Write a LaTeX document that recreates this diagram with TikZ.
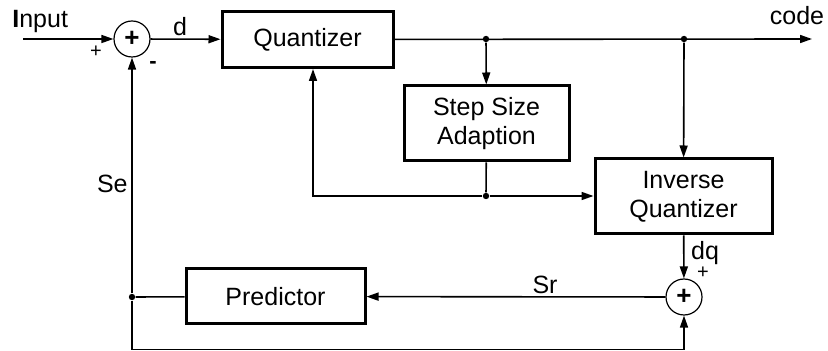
\documentclass[tikz,border=0pt]{standalone}
\usepackage{fontspec}
\setmainfont{Liberation Sans}
\usetikzlibrary{arrows.meta, positioning, calc}

\begin{document}
\begin{tikzpicture}[
    x=0.5pt, y=-0.5pt,
    font=\fontsize{12.5}{14.5}\selectfont,
    block/.style={draw, line width=1.5pt, inner sep=0pt, align=center},
    adder/.style={draw, circle, line width=0.6pt, minimum size=18pt, inner sep=0pt, font=\fontsize{13}{13}\selectfont\bfseries},
    dot/.style={circle, fill, inner sep=0pt, minimum size=3.2pt},
    sig/.style={line width=0.8pt},
    arr/.style={sig, -{Triangle[length=6pt, width=4pt]}},
    lbl/.style={inner sep=0pt},
    sgn/.style={inner sep=0pt, font=\fontsize{10}{10}\selectfont},
]
    \useasboundingbox (0,0) rectangle (828,351);

    % blocks
    \node[block, minimum width=85.5pt, minimum height=28pt] (quant) at (307.5,39.5) {Quantizer};
    \node[block, minimum width=82.5pt, minimum height=37.5pt] (step) at (486.5,123.5) {Step Size\\Adaption};
    \node[block, minimum width=88.5pt, minimum height=37.5pt] (invq) at (683.5,196.5) {Inverse\\Quantizer};
    \node[block, minimum width=89.5pt, minimum height=27.5pt] (pred) at (275.5,296.5) {Predictor};

    % adders
    \node[adder] (sum1) at (132,39) {+};
    \node[adder] (sum2) at (684,297) {+};

    % branch points
    \node[dot] (d1) at (486,39) {};
    \node[dot] (d2) at (684,39) {};
    \node[dot] (d3) at (486,196) {};
    \node[dot] (d4) at (132,297) {};
    \coordinate (in) at (23,39);
    \coordinate (out) at (812,39);
    \coordinate (c1) at (313,196);
    \coordinate (b1) at (684,349.5);

    % forward path
    \draw[arr] (in) -- (sum1);
    \draw[arr] (sum1) -- (quant);
    \draw[arr] (quant) -- (out);
    \draw[arr] (d1) -- (step);
    \draw[sig] (step) -- (d3);
    \draw[arr] (d2) -- (invq);
    \draw[arr] (d3) -- (invq.west |- d3);
    \draw[arr] (d3) -- (c1) -- (c1 |- quant.south);

    % feedback path
    \draw[arr] (invq) -- (sum2);
    \draw[arr] (sum2) -- (pred);
    \draw[sig] (pred) -- (d4);
    \draw[arr] (d4) -- (sum1);
    \draw[arr] (d4) |- (b1) -- (sum2);

    % labels
    \node[lbl, anchor=base west] (lin) at (12,28) {{\bfseries I}nput};
    \node[lbl] (ld) at (180,27) {d};
    \node[lbl] (lcode) at (797,16) {code};
    \node[lbl, anchor=east] (lse) at (128,184) {Se};
    \node[lbl] (lsr) at (545,285) {Sr};
    \node[lbl] (ldq) at (705,253) {dq};
    \node[sgn] (p1) at (96,52) {+};
    \node[sgn, font=\fontsize{11}{11}\selectfont\bfseries] (m1) at (153,65) {-};
    \node[sgn] (p2) at (703,273) {+};
\end{tikzpicture}
\end{document}
